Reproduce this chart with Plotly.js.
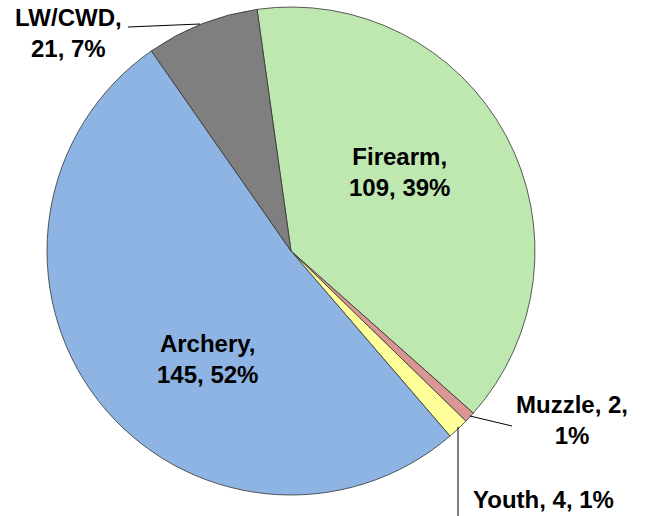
<!DOCTYPE html>
<html>
<head>
<meta charset="utf-8">
<script src="https://cdn.plot.ly/plotly-3.0.1.min.js"></script>
<style>html,body{margin:0;padding:0;background:#fff;}#chart{width:647px;height:516px;}</style>
</head>
<body>
<div id="chart"></div>
<script>
// Data
const categories = ["Firearm", "Muzzle", "Youth", "Archery", "LW/CWD"];
const counts = [109, 2, 4, 145, 21];
const sliceColors = ["#BEE8B0", "#DA9694", "#FFFF99", "#8DB4E2", "#7F7F7F"];

// Label layout (pixel positions of label centres, and line breaks)
const W = 647, H = 516;
const labelPos = [[399, 172], [572, 420], [543, 499], [207, 359], [68, 33]];
const labelBreak = ["<br>", "<br>", " ", "<br>", "<br>"];

const total = counts.reduce((a, b) => a + b, 0);
const annotations = categories.map((c, i) => {
  const pct = Math.round(counts[i] / total * 100);
  let txt;
  if (labelBreak[i] === "<br>" && c === "Muzzle") {
    txt = c + ", " + counts[i] + ",<br>" + pct + "%";
  } else if (labelBreak[i] === "<br>") {
    txt = c + ",<br>" + counts[i] + ", " + pct + "%";
  } else {
    txt = c + ", " + counts[i] + ", " + pct + "%";
  }
  return {
    xref: "paper", yref: "paper",
    x: labelPos[i][0] / W, y: 1 - labelPos[i][1] / H,
    xanchor: "center", yanchor: "middle",
    text: "<b>" + txt + "</b>", showarrow: false, align: "center",
    font: {family: "Liberation Sans, Arial, sans-serif", size: 24, color: "#000"}
  };
});

// Leader lines
const leaders = [
  [[128, 27], [200, 24]],
  [[470, 416], [512, 426]],
  [[458, 427], [458, 516]]
];
const shapes = leaders.map(l => ({
  type: "line", xref: "paper", yref: "paper",
  x0: l[0][0] / W, y0: 1 - l[0][1] / H, x1: l[1][0] / W, y1: 1 - l[1][1] / H,
  line: {color: "#000", width: 1}
}));

const cx = 291, cy = 251, r = 244;
const trace = {
  type: "pie",
  labels: categories,
  values: counts,
  sort: false,
  direction: "clockwise",
  rotation: -8,
  textinfo: "none",
  hoverinfo: "label+value+percent",
  marker: {colors: sliceColors, line: {color: "#333333", width: 0.8}},
  domain: {x: [(cx - r) / W, (cx + r) / W], y: [1 - (cy + r) / H, 1 - (cy - r) / H]},
  showlegend: false
};

Plotly.newPlot("chart", [trace], {
  width: W, height: H,
  margin: {l: 0, r: 0, t: 0, b: 0},
  paper_bgcolor: "#fff",
  showlegend: false,
  annotations: annotations,
  shapes: shapes
}, {displayModeBar: false, staticPlot: true});
</script>
</body>
</html>
